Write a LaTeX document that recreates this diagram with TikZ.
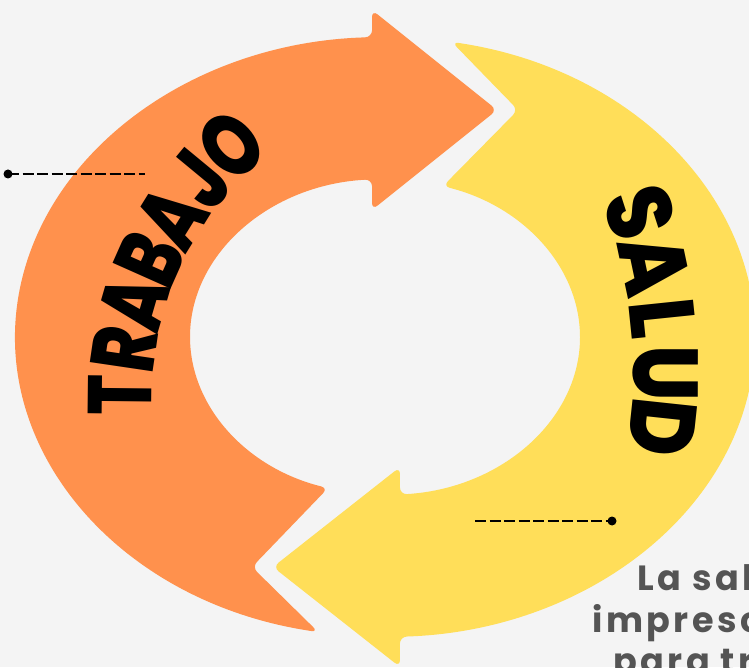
\documentclass[tikz,border=0pt]{standalone}
\usepackage{fontspec}
\usetikzlibrary{calc}
\newfontfamily\bigfont{Poppins}[BoldFont={* ExtraBold}, FakeStretch=0.85]
\newfontfamily\arcfont{Poppins}[BoldFont={* ExtraBold}, FakeStretch=0.74]
\newfontfamily\notefont{Poppins}[LetterSpace=10]

\begin{document}
\begin{tikzpicture}[x=1pt, y=1pt,
	bigtext/.style={font=\bigfont\bfseries\fontsize{92}{92}\selectfont, inner sep=0pt, anchor=base},
	arctext/.style={font=\arcfont\bfseries\fontsize{90}{90}\selectfont, inner sep=0pt, anchor=base},
	notetext/.style={font=\notefont\bfseries\fontsize{35}{35}\selectfont, text=notegray, inner sep=0pt, anchor=base west},
	dashline/.style={line width=2.4pt, dash pattern=on 11pt off 3.5pt}]
	% Define colors
	\definecolor{bggray}{RGB}{244,244,244}
	\definecolor{orangeA}{RGB}{255,145,77}
	\definecolor{yellowA}{RGB}{255,222,89}
	\definecolor{notegray}{RGB}{84,84,84}

	% Canvas
	\useasboundingbox (0,0) rectangle (749,667);
	\clip (0,0) rectangle (749,667);
	\fill[bggray] (0,0) rectangle (749,667);

	% Centre of the ring
	\coordinate (c) at (385,330);

	% Draw the orange arrow (going up)
	\fill[orangeA, rounded corners=7pt] ($(c)+(259.6:370 and 300)$)
		arc[start angle=259.6, end angle=92, x radius=370, y radius=300]
		-- (372,657) -- (497,557) -- (372,457)
		-- ($(c)+(93.8:195 and 158)$)
		arc[start angle=93.8, end angle=253, x radius=195, y radius=158]
		-- (252,100) -- cycle;

	% Draw the yellow arrow (going down)
	\fill[yellowA, rounded corners=7pt] ($(c)+(79.6:370 and 300)$)
		arc[start angle=79.6, end angle=-87.7, x radius=370, y radius=300]
		-- (400,0) -- (273,100) -- (400,200)
		-- ($(c)+(-85.6:195 and 158)$)
		arc[start angle=-85.6, end angle=72.7, x radius=195, y radius=158]
		-- (518,557) -- cycle;

	% Letters of TRABAJO round their own circle
	\coordinate (tc) at (465,268);
	\foreach \l [count=\i] in {T,R,A,B,A,J,O} {
		\pgfmathsetmacro\a{179.4-7.8*(\i-1)}
		\node[arctext, rotate=\a-90] (trab\i) at ($(tc)+(\a:313)$) {\l};
	}

	% Letters of SALUD
	\coordinate (sc) at (146,295);
	\foreach \l [count=\i] in {S,A,L,U,D} {
		\pgfmathsetmacro\a{17.9-6*(\i-1)}
		\node[bigtext, rotate=\a-90] (sal\i) at ($(sc)+(\a:487)$) {\l};
	}

	% Dashed pointers
	\coordinate (ldot) at (8,493);
	\coordinate (lend) at (145,493);
	\fill (ldot) circle (4.5);
	\draw[dashline] (ldot) -- (lend);

	\coordinate (rdot) at (612,146);
	\coordinate (rend) at (475,146);
	\fill (rdot) circle (4.5);
	\draw[dashline] (rend) -- (rdot);

	% Note text (cut by the edge)
	\node[notetext] (note1) at (637,77) {La salud};
	\node[notetext] (note2) at (592,35) {imprescindible};
	\node[notetext] (note3) at (613,-6) {para trabajar};
\end{tikzpicture}
\end{document}
